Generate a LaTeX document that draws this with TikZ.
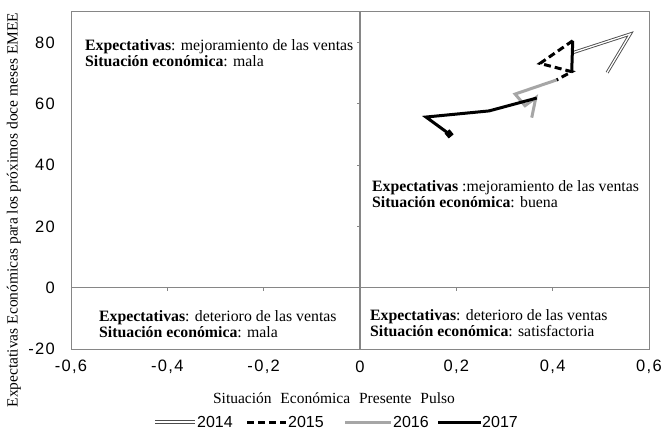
\documentclass[tikz,border=0pt]{standalone}
\usepackage{fontspec}
\setmainfont{Liberation Serif}
\newfontfamily\legsf{Liberation Sans}
\newfontfamily\ticksf{Liberation Sans}[LetterSpace=8]
\definecolor{framegray}{RGB}{134,134,134}
\definecolor{lightser}{RGB}{166,166,166}
\begin{document}
\begin{tikzpicture}[x=1pt,y=-1pt,
  frameline/.style={draw=framegray, line width=0.9pt},
  zeroline/.style={draw=framegray, line width=1.3pt},
  tickline/.style={draw=framegray, line width=0.8pt},
  ticklab/.style={font=\ticksf\fontsize{16.5}{16}\selectfont, inner sep=0pt},
  legtext/.style={font=\legsf\fontsize{16}{16}\selectfont, inner sep=0pt, anchor=west},
  note/.style={font=\fontsize{15.8}{16}\selectfont, inner sep=0pt, anchor=base west},
  title/.style={font=\fontsize{15.5}{16}\selectfont, inner sep=0pt},
  sA/.style={draw=black!70, line width=0.9pt, double=white, double distance=1.3pt, line join=miter},
  sB/.style={draw=black, line width=3pt, dash pattern=on 7pt off 4pt},
  sC/.style={draw=lightser, line width=3pt},
  sD/.style={draw=black, line width=3pt},
  mk/.style={fill=black, draw=none, rectangle, rotate=40, minimum size=6.5pt, inner sep=0pt}
]
\useasboundingbox (0,0) rectangle (663,433);
\fill[white] (0,0) rectangle (663,433);

\begin{scope}[shift={(360pt,-287.7pt)}, x=481.7pt, y=3.064pt]
  % plot area
  \draw[frameline] (-0.6,-20) rectangle (0.6,90);
  \draw[zeroline] (-0.6,0) -- (0.6,0);
  \draw[zeroline] (0,-20) -- (0,90);
  \foreach \v in {-0.4,-0.2,0.2,0.4}
    \draw[tickline] (\v,0) -- ++(0pt,-3pt);
  \foreach \v in {-20,20,40,60,80}
    \draw[tickline] (0,\v) -- ++(-3pt,0pt);
  % tick labels
  \foreach \v/\t [count=\k] in {-0.6/{-0,6},-0.4/{-0,4},-0.2/{-0,2},0/0,0.2/{0,2},0.4/{0,4},0.6/{0,6}}
    \node[ticklab] (xt\k) at ([yshift=-79.3pt]\v,0) {\t};
  \foreach \v [count=\k] in {-20,0,20,40,60,80}
    \node[ticklab, anchor=east] (yt\k) at ([xshift=-305pt]0,\v) {\v};

  % series
  \draw[sA] (0.513,70.2) -- (0.561,82.8) -- (0.4416,76.7);
  \draw[sD] (0.4416,80.6) -- (0.4395,70.5);
  \draw[sB] (0.4416,80.6) -- (0.3737,73.2) -- (0.4395,70.5) -- (0.408,67.8);
  \draw[sC] (0.408,67.8) -- (0.322,63.2) -- (0.3425,59.4) -- (0.365,62.0) -- (0.3565,55.5);
  \draw[sD] (0.367,61.9) -- (0.268,57.7) -- (0.137,55.7) -- (0.185,50.2);
  \node[mk] (m17) at (0.185,50.2) {};
\end{scope}

% quadrant notes
\node[note] (tl1) at (85,51) {\textbf{Expectativas}: mejoramiento de las ventas};
\node[note] (tl2) at (85,67) {\textbf{Situación económica}: mala};
\node[note] (mr1) at (372,191) {\textbf{Expectativas} :mejoramiento de las ventas};
\node[note] (mr2) at (372,207) {\textbf{Situación económica}: buena};
\node[note] (bl1) at (99,321) {\textbf{Expectativas}: deterioro de las ventas};
\node[note] (bl2) at (99,337) {\textbf{Situación económica}: mala};
\node[note] (br1) at (370,320) {\textbf{Expectativas}: deterioro de las ventas};
\node[note] (br2) at (370,336) {\textbf{Situación económica}: satisfactoria};

% axis titles
\node[title] (xtitle) at (334,398) {Situación\hspace{5pt} Económica\hspace{5pt} Presente\hspace{5pt} Pulso};
\node[title, rotate=90] (ytitle) at (14,210) {Expectativas Económicas para los próximos doce meses EMEE};

% legend
\coordinate (la0) at (155,422); \coordinate (la1) at (195,422);
\draw[sA] (la0) -- (la1);
\node[legtext] (l14) at (197,422) {2014};
\coordinate (lb0) at (247,422); \coordinate (lb1) at (286,422);
\draw[sB] (lb0) -- (lb1);
\node[legtext] (l15) at (288,422) {2015};
\coordinate (lc0) at (345,422); \coordinate (lc1) at (391,422);
\draw[sC] (lc0) -- (lc1);
\node[legtext] (l16) at (393,422) {2016};
\coordinate (ld0) at (438,422); \coordinate (ld1) at (481,422);
\draw[sD] (ld0) -- (ld1);
\node[legtext] (l17) at (482,422) {2017};
\end{tikzpicture}
\end{document}
